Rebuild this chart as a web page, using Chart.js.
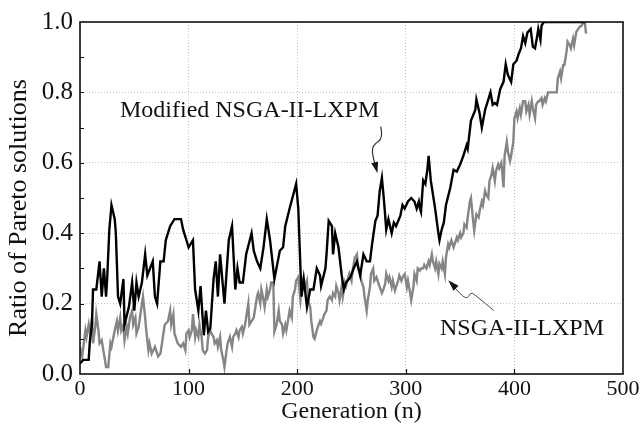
<!DOCTYPE html>
<html><head><meta charset="utf-8">
<script src="https://cdn.jsdelivr.net/npm/chart.js@4.4.0/dist/chart.umd.min.js"></script>
<style>html,body{margin:0;padding:0;background:#fff;}canvas{display:block;}</style>
</head><body>
<canvas id="c" width="644" height="432"></canvas>
<script>
// ---- data ----
const xTickValues = [0, 100, 200, 300, 400, 500];
const yTickValues = [0, 0.2, 0.4, 0.6, 0.8, 1.0];
const seriesNames = ['Modified NSGA-II-LXPM', 'NSGA-II-LXPM'];
const xTitle = 'Generation (n)';
const yTitle = 'Ratio of Pareto solutions';

const blackGen = [0,3,8,9,11,12,15,18,20,22,24,25,27,29,32,33,35,37,40,41,45,48,50,52,54,57,60,62,67,69,71,74,77,79,83,87,93,95,98,100,104,106,109,111,114,116,118,120,123,125,127,129,133,137,140,143,145,147,150,153,158,160,163,166,169,172,175,179,184,187,189,193,199,201,203,204,206,209,212,215,218,221,222,226,227,229,232,233,235,238,241,243,245,249,252,255,258,261,264,267,269,272,274,276,278,280,282,284,287,289,291,295,297,299,302,305,308,310,312,313,314,316,318,320,321,323,325,327,330,331,333,335,337,341,344,347,350,353,356,357,360,364,365,368,370,373,376,378,380,382,384,387,390,392,394,397,399,402,404,406,408,410,412,415,417,419,421,422,424,425,427,465];
const blackVal = [0.03,0.04,0.04,0.09,0.14,0.24,0.24,0.32,0.22,0.30,0.22,0.27,0.41,0.48,0.44,0.40,0.22,0.20,0.27,0.14,0.19,0.26,0.18,0.26,0.22,0.26,0.34,0.28,0.32,0.22,0.20,0.32,0.32,0.38,0.42,0.44,0.44,0.41,0.38,0.36,0.38,0.24,0.18,0.25,0.11,0.18,0.12,0.13,0.27,0.32,0.22,0.34,0.20,0.38,0.42,0.24,0.30,0.26,0.26,0.34,0.40,0.35,0.32,0.30,0.36,0.44,0.38,0.27,0.35,0.36,0.42,0.47,0.54,0.47,0.30,0.22,0.27,0.19,0.24,0.24,0.30,0.28,0.25,0.30,0.34,0.435,0.42,0.34,0.40,0.36,0.28,0.24,0.26,0.275,0.30,0.32,0.28,0.34,0.32,0.32,0.37,0.435,0.45,0.52,0.557,0.49,0.41,0.44,0.40,0.43,0.42,0.45,0.48,0.47,0.49,0.50,0.49,0.47,0.49,0.47,0.46,0.55,0.54,0.585,0.62,0.55,0.51,0.47,0.40,0.38,0.41,0.43,0.48,0.53,0.58,0.575,0.595,0.62,0.65,0.64,0.72,0.75,0.78,0.74,0.70,0.75,0.78,0.80,0.765,0.77,0.765,0.81,0.83,0.88,0.85,0.83,0.88,0.89,0.91,0.925,0.96,0.94,0.97,0.98,0.93,0.925,0.96,0.98,0.95,0.99,1.0,1.0];

const grayGen = [0,2,5,6,8,9,11,12,14,15,17,18,20,22,24,26,28,29,32,34,35,37,38,40,41,43,44,46,48,49,51,52,54,57,58,60,61,63,64,66,69,72,74,75,78,81,83,84,86,87,90,93,95,97,98,100,101,103,104,106,107,109,110,112,113,115,117,118,120,121,123,124,126,127,129,130,132,133,135,136,138,140,141,143,144,146,147,149,150,152,153,155,156,158,160,161,163,164,166,167,169,170,172,173,175,176,178,179,181,183,184,186,187,189,190,192,193,195,196,198,199,201,203,205,207,209,210,212,213,215,216,218,219,221,222,224,225,227,228,230,232,233,235,236,238,239,241,242,244,245,247,248,250,251,253,255,256,258,259,261,262,264,265,267,268,270,271,273,274,276,278,279,281,282,284,285,287,288,290,291,293,294,296,297,299,301,302,304,305,307,308,310,311,313,314,316,317,319,321,322,324,325,327,328,330,331,333,334,336,337,339,340,342,344,345,347,348,350,351,353,354,356,357,359,360,362,363,365,367,368,370,371,373,374,376,377,379,380,382,383,385,386,388,390,391,393,394,396,397,399,400,402,403,405,406,408,410,411,413,414,416,417,419,420,422,423,425,426,428,429,431,439,440,442,443,445,446,448,449,451,452,454,455,457,459,460,462,463,465,466];
const grayVal = [0.077,0.05,0.124,0.105,0.14,0.12,0.16,0.087,0.134,0.17,0.124,0.087,0.096,0.058,0.02,0.02,0.087,0.077,0.124,0.15,0.124,0.16,0.124,0.14,0.096,0.134,0.115,0.16,0.18,0.14,0.16,0.115,0.134,0.20,0.22,0.16,0.124,0.068,0.087,0.058,0.077,0.05,0.058,0.077,0.14,0.15,0.18,0.14,0.17,0.115,0.087,0.077,0.087,0.068,0.115,0.124,0.105,0.124,0.17,0.105,0.124,0.105,0.14,0.105,0.068,0.058,0.068,0.105,0.124,0.115,0.105,0.087,0.096,0.077,0.105,0.068,0.04,0.02,0.068,0.087,0.105,0.077,0.105,0.115,0.124,0.105,0.124,0.134,0.115,0.14,0.16,0.20,0.14,0.15,0.16,0.18,0.22,0.23,0.20,0.24,0.21,0.19,0.24,0.22,0.24,0.26,0.26,0.12,0.14,0.18,0.15,0.14,0.115,0.14,0.124,0.16,0.18,0.16,0.22,0.24,0.265,0.275,0.21,0.265,0.247,0.265,0.21,0.19,0.15,0.105,0.10,0.124,0.134,0.15,0.143,0.16,0.17,0.18,0.21,0.22,0.21,0.23,0.22,0.25,0.23,0.21,0.25,0.22,0.26,0.25,0.275,0.285,0.265,0.294,0.33,0.34,0.30,0.285,0.265,0.247,0.22,0.18,0.21,0.247,0.285,0.30,0.265,0.275,0.265,0.247,0.23,0.237,0.256,0.285,0.265,0.275,0.247,0.265,0.237,0.247,0.265,0.28,0.265,0.275,0.284,0.247,0.265,0.23,0.21,0.247,0.284,0.265,0.30,0.294,0.30,0.30,0.31,0.30,0.32,0.31,0.34,0.32,0.30,0.32,0.284,0.313,0.30,0.32,0.284,0.331,0.369,0.36,0.38,0.36,0.369,0.388,0.38,0.40,0.388,0.40,0.425,0.416,0.445,0.49,0.50,0.435,0.407,0.454,0.445,0.463,0.49,0.48,0.52,0.51,0.50,0.548,0.567,0.585,0.548,0.576,0.595,0.585,0.60,0.53,0.62,0.66,0.633,0.605,0.62,0.66,0.727,0.746,0.727,0.755,0.737,0.775,0.775,0.746,0.765,0.737,0.775,0.755,0.727,0.765,0.775,0.775,0.784,0.765,0.784,0.775,0.80,0.80,0.84,0.859,0.84,0.878,0.878,0.915,0.944,0.934,0.925,0.953,0.934,0.972,0.981,0.986,0.99,1.0,0.995,0.967];

// ---- styling ----
const SERIF = '"Liberation Serif", "Times New Roman", serif';
const toPts = (gs, vs) => gs.map((g, i) => ({x: g, y: vs[i]}));

const overlay = {
  id: 'overlay',
  afterDatasetsDraw(chart) {
    const {ctx, chartArea: a, scales: {x, y}} = chart;
    ctx.save();
    // inward ticks
    ctx.strokeStyle = '#111';
    ctx.lineWidth = 1.2;
    ctx.beginPath();
    for (let v = 100; v < 500; v += 100) {
      const px = Math.round(x.getPixelForValue(v)) + 0.5;
      ctx.moveTo(px, a.bottom); ctx.lineTo(px, a.bottom - 5);
    }
    for (let k = 1; k < 10; k++) {
      const py = Math.round(y.getPixelForValue(k / 10)) + 0.5;
      ctx.moveTo(a.left, py); ctx.lineTo(a.left + 4, py);
    }
    ctx.stroke();
    // frame
    ctx.strokeStyle = '#111';
    ctx.lineWidth = 1.6;
    ctx.strokeRect(a.left, a.top, a.right - a.left, a.bottom - a.top);

    // y axis title
    ctx.fillStyle = '#111';
    ctx.save();
    ctx.font = '26px ' + SERIF;
    ctx.textAlign = 'center';
    ctx.textBaseline = 'middle';
    ctx.translate(19, (a.top + a.bottom) / 2 + 10);
    ctx.rotate(-Math.PI / 2);
    ctx.fillText(yTitle, 0, 0);
    ctx.restore();

    // annotations
    ctx.font = '24px ' + SERIF;
    ctx.textBaseline = 'alphabetic';
    ctx.textAlign = 'left';
    ctx.fillText(seriesNames[0], x.getPixelForValue(36.8), y.getPixelForValue(0.729));
    ctx.fillText(seriesNames[1], x.getPixelForValue(331.5), y.getPixelForValue(0.110));

    const P = (g, v) => [x.getPixelForValue(g), y.getPixelForValue(v)];
    function curve(pts) {
      ctx.beginPath();
      ctx.moveTo(pts[0][0], pts[0][1]);
      for (let i = 1; i < pts.length - 1; i++) {
        const mx = (pts[i][0] + pts[i + 1][0]) / 2, my = (pts[i][1] + pts[i + 1][1]) / 2;
        ctx.quadraticCurveTo(pts[i][0], pts[i][1], mx, my);
      }
      const l = pts[pts.length - 1];
      ctx.lineTo(l[0], l[1]);
      ctx.stroke();
    }
    function head(from, tip, len, wid) {
      const dx = tip[0] - from[0], dy = tip[1] - from[1];
      const d = Math.hypot(dx, dy), ux = dx / d, uy = dy / d;
      const bx = tip[0] - ux * len, by = tip[1] - uy * len;
      ctx.beginPath();
      ctx.moveTo(tip[0], tip[1]);
      ctx.lineTo(bx - uy * wid, by + ux * wid);
      ctx.lineTo(bx + uy * wid, by - ux * wid);
      ctx.closePath();
      ctx.fill();
    }
    // arrow 1
    ctx.strokeStyle = '#333'; ctx.fillStyle = '#111'; ctx.lineWidth = 1.2;
    const a1 = [P(276.9, 0.703), P(279.3, 0.670), P(270.1, 0.651), P(268.9, 0.633), P(270.7, 0.605), P(272.6, 0.590)];
    curve(a1);
    head(P(270.7, 0.610), P(273.8, 0.571), 11, 3.5);
    // arrow 2
    ctx.strokeStyle = '#444'; ctx.lineWidth = 1;
    const a2 = [P(381.1, 0.180), P(363.5, 0.226), P(359.5, 0.232), P(356, 0.209), P(343, 0.252)];
    curve(a2);
    head(P(350, 0.232), P(339.1, 0.266), 11, 3.5);
    ctx.restore();
  }
};

new Chart(document.getElementById('c'), {
  type: 'line',
  data: {
    datasets: [
      {label: seriesNames[0], data: toPts(blackGen, blackVal), borderColor: '#000', borderWidth: 2.4, pointRadius: 0, tension: 0, fill: false},
      {label: seriesNames[1], data: toPts(grayGen, grayVal), borderColor: '#858585', borderWidth: 2.4, pointRadius: 0, tension: 0, fill: false}
    ]
  },
  options: {
    responsive: false,
    animation: false,
    devicePixelRatio: 1,
    layout: {padding: {top: 20, right: 21, left: 0, bottom: 0}},
    plugins: {legend: {display: false}, tooltip: {enabled: false}},
    scales: {
      x: {
        type: 'linear', min: 0, max: 500,
        afterBuildTicks: s => { s.ticks = xTickValues.map(v => ({value: v})); },
        afterFit: s => { s.height = 58; },
        ticks: {font: {family: SERIF, size: 22}, color: '#111', padding: 2, maxRotation: 0, callback: v => String(v)},
        grid: {color: '#c4c4c4', lineWidth: 1, drawTicks: false},
        border: {display: false, dash: [1, 2]},
        title: {display: true, text: xTitle, font: {family: SERIF, size: 24}, color: '#111', padding: {top: 0, bottom: 6}}
      },
      y: {
        min: 0, max: 1,
        afterBuildTicks: s => { s.ticks = yTickValues.map(v => ({value: v})); },
        afterFit: s => { s.width = 80; },
        ticks: {font: {family: SERIF, size: 25}, color: '#111', padding: 7, callback: v => Number(v).toFixed(1)},
        grid: {color: '#c4c4c4', lineWidth: 1, drawTicks: false},
        border: {display: false, dash: [1, 2]},
        title: {display: false}
      }
    }
  },
  plugins: [overlay]
});
</script>
</body></html>
